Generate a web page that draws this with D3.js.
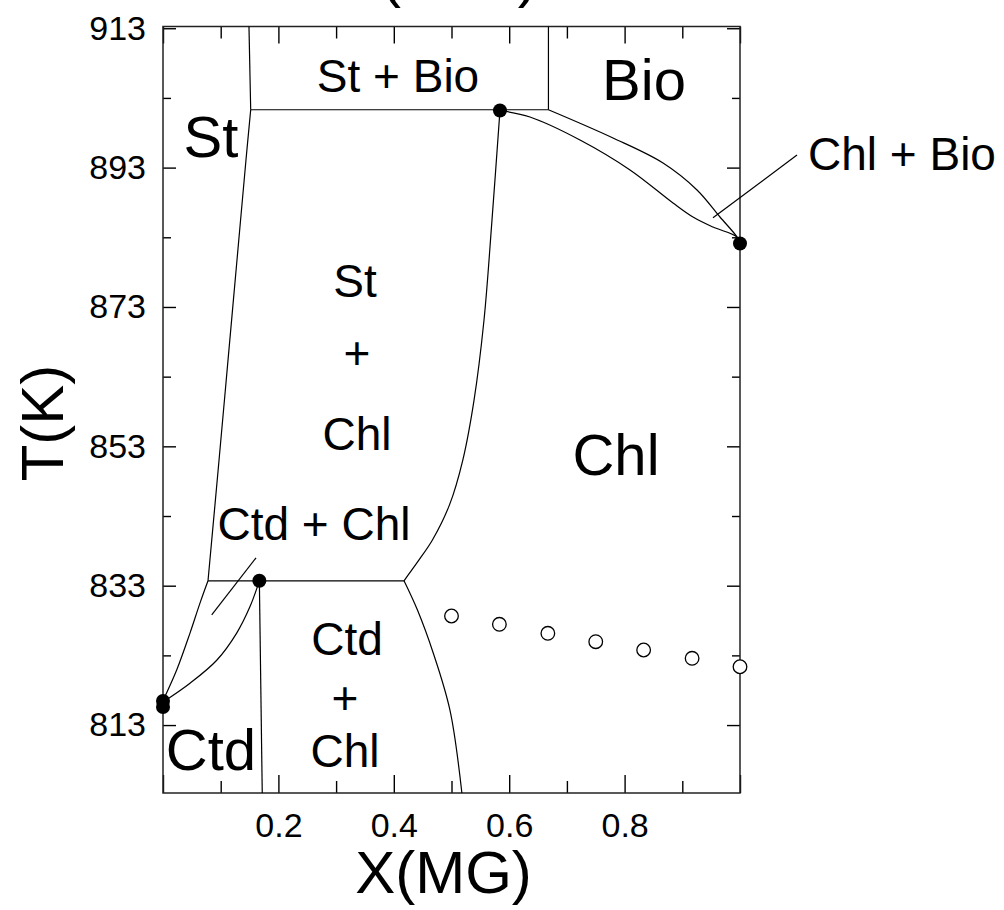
<!DOCTYPE html>
<html>
<head>
<meta charset="utf-8">
<script src="https://cdn.jsdelivr.net/npm/d3@7"></script>
<style>
  body { margin: 0; background: #fff; }
  text { font-family: "Liberation Sans", Arial, Helvetica, sans-serif; fill: #000; }
</style>
</head>
<body>
<svg id="chart" width="1004" height="910"></svg>
<script>
// Ticks //
const xTickValues = [0, 0.2, 0.4, 0.6, 0.8, 1.0]
const xTickLabels = ['', '0.2', '0.4', '0.6', '0.8', '']
const xMinorTicks = [0.1, 0.3, 0.5, 0.7, 0.9]
const yTickValues = [813, 833, 853, 873, 893, 913]
const yMinorTicks = [823, 843, 863, 883, 903]

// Phase boundaries, [X(MG), T(K)] //
const stLeftEdge = [[0.149, 913.25], [0.152, 901.3]]
const bioLeftEdge = [[0.668, 913.25], [0.668, 901.3]]
const stBioBase = [[0.152, 901.3], [0.668, 901.3]]
const stChlLeft = [[0.152, 901.3], [0.1438, 894.1], [0.1282, 879.7], [0.1127, 865.4], [0.0971, 851.0], [0.078, 833.7]]
const stChlRight = [[0.584, 901.2], [0.5702, 885.5], [0.5563, 871.1], [0.539, 859.6], [0.5195, 851.0],
                    [0.4965, 844.6], [0.4672, 839.6], [0.4437, 836.7], [0.4298, 835.1], [0.4177, 833.7]]
const bioUpper = [[0.668, 901.3], [0.7799, 897.25], [0.8666, 893.66], [0.9255, 889.79], [0.9653, 885.91],
                  [0.9948, 883.04], [1.0, 882.1]]
const bioLower = [[0.584, 901.2], [0.636, 900.26], [0.7227, 896.96], [0.8094, 892.66], [0.8839, 887.92],
                  [0.9185, 885.91], [0.9532, 884.47], [0.9948, 883.04], [1.0, 882.1]]
const ctdChlBase = [[0.078, 833.7], [0.4177, 833.7]]
const ctdUpper = [[0, 816.5], [0.0237, 820.9], [0.0468, 826.2], [0.0641, 830.5], [0.078, 833.7]]
const ctdLower = [[0, 816.3], [0.0468, 819.0], [0.0931, 822.3], [0.1277, 826.2], [0.1508, 830.0], [0.167, 833.7]]
const ctdVertical = [[0.167, 833.7], [0.172, 803.25]]
const chlCtdRight = [[0.4177, 833.7], [0.441, 829.5], [0.4685, 823.3], [0.4974, 815.1], [0.518, 803.25]]
const leaderCtdChl = [[0.0844, 828.8], [0.1612, 837.0]]
const leaderChlBio = [[0.9532, 885.8], [1.0988, 894.8]]

// Invariant points //
const filledX = [0, 0, 0.167, 0.584, 1.0]
const filledT = [816.45, 815.6, 833.7, 901.2, 882.1]

// Open circles //
const openX = [0.5, 0.583, 0.667, 0.75, 0.833, 0.917, 1.0]
const openT = [828.65, 827.46, 826.17, 824.96, 823.77, 822.58, 821.37]

// Field labels //
const labelText = ['St + Bio', 'Bio', 'St', 'St', '+', 'Chl', 'Chl', 'Ctd + Chl', 'Ctd', '+', 'Chl', 'Ctd', 'Chl + Bio']
const labelX    = [0.4073, 0.8336, 0.0832, 0.3328, 0.3362, 0.3362, 0.7851, 0.2617, 0.3189, 0.3154, 0.3154, 0.0832, 1.1179]
const labelT    = [903.85, 902.7, 894.5, 874.4, 864.06, 852.5, 848.9, 839.55, 823.05, 814.65, 806.95, 806.6, 892.66]
const labelBig  = [false, true, true, false, false, false, true, false, false, false, false, true, false]

// Geometry //
const plot = { left: 163, right: 740, top: 26.5, bottom: 793 }

const x = d3.scaleLinear().domain([0, 1]).range([plot.left, plot.right])
const y = d3.scaleLinear().domain([803.25, 913.25]).range([plot.bottom, plot.top])

const svg = d3.select('#chart')

// Axes, ticks pointing inward //
const tickStyle = g => g.call(s => s.select('.domain').remove())
  .call(s => s.selectAll('.tick line').attr('stroke', '#000').attr('stroke-width', 1.4))
  .call(s => s.selectAll('.tick text').attr('font-size', 34).attr('fill', '#000'))

svg.append('g')
  .attr('transform', 'translate(0,' + plot.bottom + ')')
  .call(d3.axisBottom(x).tickValues(xTickValues).tickSize(-18).tickPadding(20)
    .tickFormat((d, i) => xTickLabels[i]))
  .call(tickStyle)
svg.append('g')
  .attr('transform', 'translate(0,' + plot.bottom + ')')
  .call(d3.axisBottom(x).tickValues(xMinorTicks).tickSize(-12).tickFormat(''))
  .call(tickStyle)
svg.append('g')
  .attr('transform', 'translate(0,' + plot.top + ')')
  .call(d3.axisTop(x).tickValues(xTickValues).tickSize(-17).tickFormat(''))
  .call(tickStyle)
svg.append('g')
  .attr('transform', 'translate(0,' + plot.top + ')')
  .call(d3.axisTop(x).tickValues(xMinorTicks).tickSize(-12).tickFormat(''))
  .call(tickStyle)

svg.append('g')
  .attr('transform', 'translate(' + plot.left + ',0)')
  .call(d3.axisLeft(y).tickValues(yTickValues).tickSize(-13).tickPadding(17).tickFormat(d3.format('d')))
  .call(tickStyle)
svg.append('g')
  .attr('transform', 'translate(' + plot.left + ',0)')
  .call(d3.axisLeft(y).tickValues(yMinorTicks).tickSize(-8).tickFormat(''))
  .call(tickStyle)
svg.append('g')
  .attr('transform', 'translate(' + plot.right + ',0)')
  .call(d3.axisRight(y).tickValues(yTickValues).tickSize(-13).tickFormat(''))
  .call(tickStyle)
svg.append('g')
  .attr('transform', 'translate(' + plot.right + ',0)')
  .call(d3.axisRight(y).tickValues(yMinorTicks).tickSize(-8).tickFormat(''))
  .call(tickStyle)

// Frame
svg.append('rect')
  .attr('x', plot.left).attr('y', plot.top)
  .attr('width', plot.right - plot.left).attr('height', plot.bottom - plot.top)
  .attr('fill', 'none').attr('stroke', '#222').attr('stroke-width', 1.5)

// Boundaries //
const line = d3.line()
  .x(d => x(d[0]))
  .y(d => y(d[1]))
  .curve(d3.curveCatmullRom.alpha(0.5))

const boundaries = [stLeftEdge, bioLeftEdge, stBioBase, stChlLeft, stChlRight, bioUpper, bioLower,
                    ctdChlBase, ctdUpper, ctdLower, ctdVertical, chlCtdRight, leaderCtdChl, leaderChlBio]
svg.append('g')
  .selectAll('path')
  .data(boundaries)
  .join('path')
    .attr('d', line)
    .attr('fill', 'none')
    .attr('stroke', '#000')
    .attr('stroke-width', 1.2)

// Points //
svg.append('g')
  .selectAll('circle')
  .data(openX)
  .join('circle')
    .attr('cx', d => x(d))
    .attr('cy', (_, i) => y(openT[i]))
    .attr('r', 6.8)
    .attr('fill', '#fff')
    .attr('stroke', '#000')
    .attr('stroke-width', 1.3)

svg.append('g')
  .selectAll('circle')
  .data(filledX)
  .join('circle')
    .attr('cx', d => x(d))
    .attr('cy', (_, i) => y(filledT[i]))
    .attr('r', 7)
    .attr('fill', '#000')

// Field labels //
svg.append('g')
  .selectAll('text')
  .data(labelText)
  .join('text')
    .attr('x', (_, i) => x(labelX[i]))
    .attr('y', (_, i) => y(labelT[i]))
    .attr('text-anchor', (d, i) => i === labelText.length - 1 ? 'start' : 'middle')
    .attr('font-size', (_, i) => labelBig[i] ? 58 : 46)
    .text(d => d)

// Axis titles //
svg.append('text')
  .attr('x', (plot.left + plot.right) / 2 - 8)
  .attr('y', 893)
  .attr('text-anchor', 'middle')
  .attr('font-size', 60)
  .text('X(MG)')

svg.append('text')
  .attr('transform', 'translate(63,423) rotate(-90)')
  .attr('text-anchor', 'middle')
  .attr('font-size', 60)
  .text('T(K)')

svg.append('text')
  .attr('x', 341)
  .attr('y', -4)
  .attr('font-size', 60)
  .text('P(kbar)')
</script>
</body>
</html>
